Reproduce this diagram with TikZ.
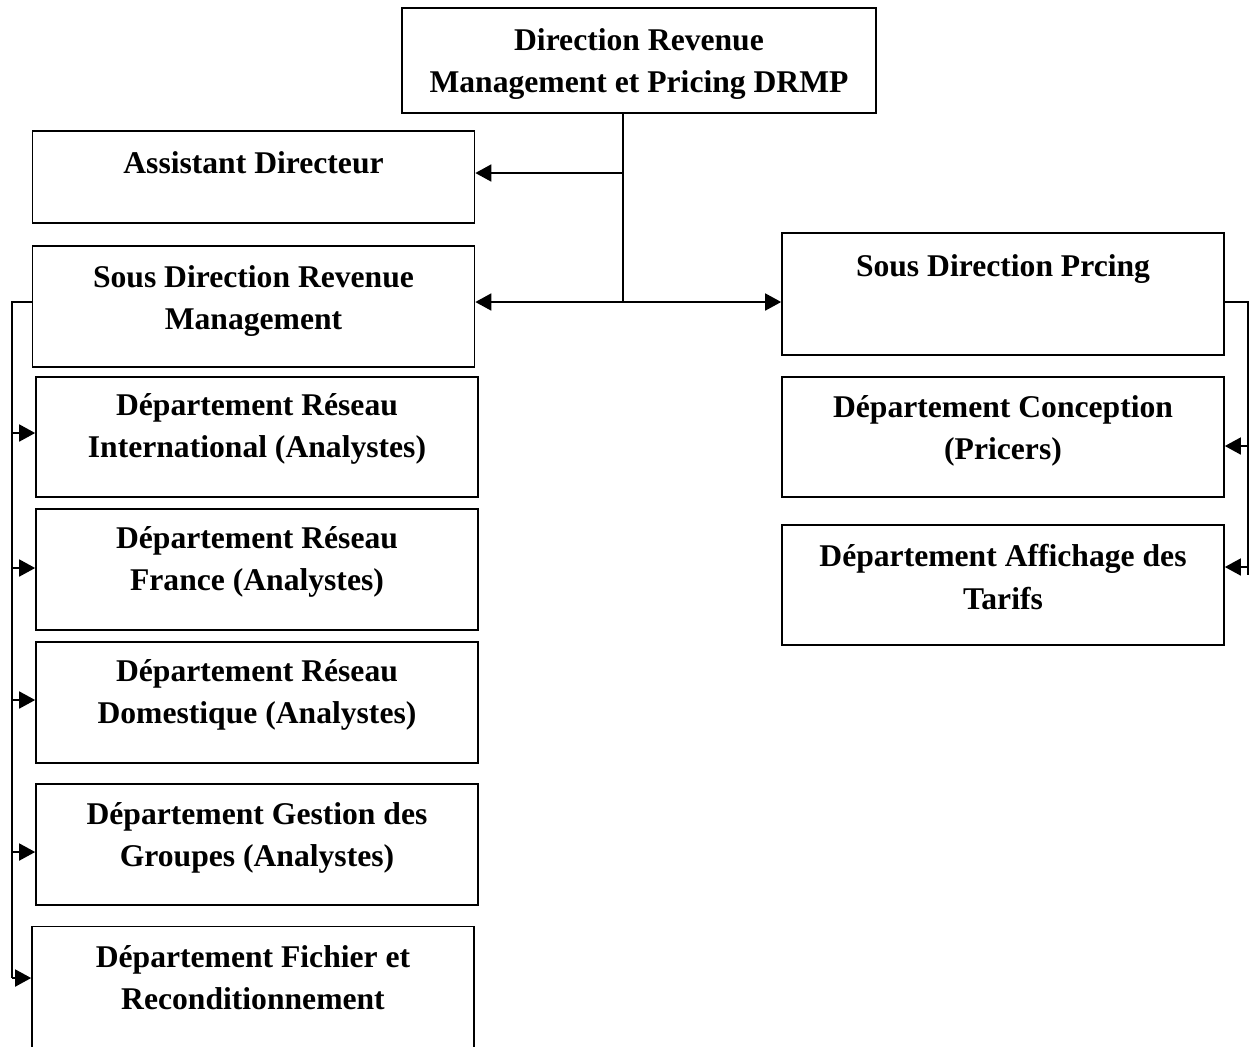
\documentclass[tikz,border=0pt]{standalone}
\usepackage{fontspec}
\setmainfont{Liberation Serif}
\usetikzlibrary{arrows.meta}

\tikzset{
  unit/.style={draw, line width=1pt, inner sep=0pt, minimum width=8.84cm},
  lbl/.style={font=\bfseries\fontsize{18}{24}\selectfont, align=center},
  link/.style={line width=1pt},
  arr/.style={link, -{Triangle[length=0.32cm,width=0.34cm]}},
  biarr/.style={link, {Triangle[length=0.32cm,width=0.34cm]}-{Triangle[length=0.32cm,width=0.34cm]}},
}

\begin{document}
\begin{tikzpicture}[x=0.02cm, y=-0.02cm]
    \useasboundingbox (0,0) rectangle (1256,1046);
    \clip (0,0) rectangle (1256,1046);
    % Direction
    \node[unit, minimum width=9.48cm, minimum height=2.1cm] (drmp) at (639,60.5) {};
    \node[lbl] (drmp-t) at (639,64) {Direction Revenue\\Management et Pricing DRMP};
    % Assistant
    \node[unit, minimum height=1.84cm] (asst) at (253.5,177) {};
    \node[lbl] (asst-t) at (253.5,163) {Assistant Directeur};
    % Sous directions
    \node[unit, minimum height=2.42cm] (sdrm) at (253.5,306.5) {};
    \node[lbl] (sdrm-t) at (253.5,301) {Sous Direction Revenue\\Management};
    \node[unit, minimum height=2.44cm] (sdp) at (1003,294) {};
    \node[lbl] (sdp-t) at (1003,269) {Sous Direction Prcing};
    % Departements revenue management
    \node[unit, minimum height=2.4cm] (intl) at (257,437) {};
    \node[lbl] (intl-t) at (257,429) {D\'epartement R\'eseau\\International (Analystes)};
    \node[unit, minimum height=2.42cm] (fra) at (257,569.5) {};
    \node[lbl] (fra-t) at (257,562) {D\'epartement R\'eseau\\France (Analystes)};
    \node[unit, minimum height=2.42cm] (dom) at (257,702.5) {};
    \node[lbl] (dom-t) at (257,695) {D\'epartement R\'eseau\\Domestique (Analystes)};
    \node[unit, minimum height=2.42cm] (grp) at (257,844.5) {};
    \node[lbl] (grp-t) at (257,838) {D\'epartement Gestion des\\Groupes (Analystes)};
    \node[unit, minimum height=2.5cm] (fich) at (253,989) {};
    \node[lbl] (fich-t) at (253,978) {D\'epartement Fichier et\\Reconditionnement};
    % Departements pricing
    \node[unit, minimum height=2.4cm] (conc) at (1003,437) {};
    \node[lbl] (conc-t) at (1003,431) {D\'epartement Conception\\(Pricers)};
    \node[unit, minimum height=2.4cm] (aff) at (1003,585) {};
    \node[lbl] (aff-t) at (1003,577) {D\'epartement Affichage des\\Tarifs};
    % Liaisons
    \coordinate (tap) at (623,173);
    \coordinate (hub) at (623,302);
    \draw[link] (drmp.south -| hub) -- (hub);
    \draw[arr] (tap) -- (tap -| asst.east);
    \draw[biarr] (hub -| sdrm.east) -- (hub -| sdp.west);
    % Bus gauche
    \coordinate (lbus) at (12,302);
    \draw[link] (lbus -| sdrm.west) -- (lbus) -- (12,978);
    \foreach \d/\yy in {intl/433, fra/568, dom/700, grp/852, fich/978}
        \draw[arr] (12,\yy) -- (\d.west |- 0,\yy);
    % Bus droit
    \coordinate (rbus) at (1248,302);
    \draw[link] (rbus -| sdp.east) -- (rbus) -- (1248,575);
    \foreach \d/\yy in {conc/446, aff/567}
        \draw[arr] (1248,\yy) -- (\d.east |- 0,\yy);
\end{tikzpicture}
\end{document}
